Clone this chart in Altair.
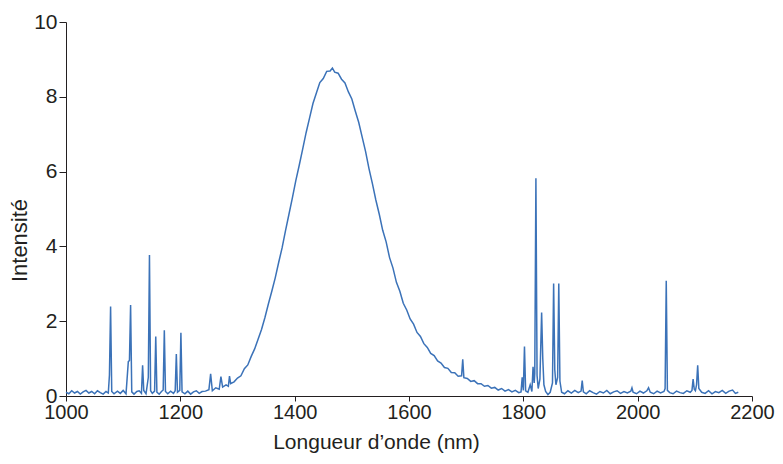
import altair as alt
import pandas as pd

# Segment A: baseline with emission lines (1000-1240 nm)
wl_a = [1000, 1005, 1010, 1015, 1020, 1025, 1030, 1035, 1040, 1045, 1050, 1055, 1060, 1065,
        1070, 1074, 1076, 1078, 1080, 1084, 1090, 1095, 1100, 1105, 1109, 1111, 1113, 1115,
        1119, 1124, 1128, 1132, 1134, 1136, 1140, 1144, 1146, 1148, 1151, 1155, 1157, 1159,
        1163, 1167, 1170, 1172, 1174, 1178, 1183, 1188, 1191, 1193, 1195, 1199, 1201, 1203,
        1208, 1213, 1218, 1223, 1228, 1233, 1238]
int_a = [0.10, 0.06, 0.14, 0.08, 0.12, 0.05, 0.11, 0.15, 0.08, 0.12, 0.06, 0.14, 0.09, 0.05,
         0.12, 0.08, 0.56, 2.39, 0.12, 0.06, 0.13, 0.07, 0.15, 0.06, 0.92, 0.95, 2.43, 0.11,
         0.05, 0.12, 0.14, 0.07, 0.82, 0.15, 0.06, 0.50, 3.77, 0.14, 0.07, 0.13, 1.59, 0.10,
         0.05, 0.12, 0.16, 1.76, 0.12, 0.06, 0.13, 0.07, 0.14, 1.12, 0.10, 0.15, 1.69, 0.11,
         0.06, 0.13, 0.05, 0.11, 0.14, 0.07, 0.12]

# Segment B: broad emission band (1244-1796 nm)
wl_b = [1244, 1250, 1253, 1256, 1262, 1268, 1271, 1274, 1280, 1284, 1286, 1288, 1294, 1300,
        1306, 1312, 1318, 1324, 1330, 1336, 1342, 1348, 1354, 1360, 1366, 1372, 1378, 1384,
        1390, 1396, 1402, 1408, 1414, 1420, 1426, 1432, 1438, 1444, 1450, 1456, 1462, 1466,
        1470, 1476, 1482, 1488, 1494, 1500, 1506, 1512, 1518, 1524, 1530, 1536, 1542, 1548,
        1554, 1560, 1566, 1572, 1578, 1584, 1590, 1596, 1602, 1608, 1614, 1620, 1626, 1632,
        1638, 1644, 1650, 1656, 1662, 1668, 1674, 1680, 1686, 1692, 1694, 1696, 1702, 1708,
        1714, 1720, 1726, 1732, 1738, 1744, 1750, 1756, 1762, 1768, 1774, 1780, 1786, 1792,
        1796]
int_b = [0.13, 0.17, 0.59, 0.14, 0.22, 0.18, 0.52, 0.24, 0.30, 0.26, 0.53, 0.33, 0.38, 0.48,
         0.54, 0.73, 0.83, 1.06, 1.26, 1.52, 1.78, 2.10, 2.46, 2.80, 3.16, 3.57, 3.96, 4.42,
         4.86, 5.30, 5.76, 6.17, 6.60, 7.04, 7.43, 7.82, 8.10, 8.38, 8.49, 8.68, 8.69, 8.77,
         8.66, 8.63, 8.47, 8.37, 8.13, 7.94, 7.62, 7.32, 6.93, 6.54, 6.08, 5.68, 5.24, 4.86,
         4.43, 4.12, 3.70, 3.42, 3.04, 2.80, 2.48, 2.30, 2.06, 1.92, 1.70, 1.59, 1.40, 1.30,
         1.14, 1.08, 0.94, 0.88, 0.76, 0.74, 0.63, 0.62, 0.53, 0.54, 0.98, 0.49, 0.47, 0.39,
         0.41, 0.33, 0.33, 0.26, 0.28, 0.21, 0.23, 0.16, 0.20, 0.13, 0.17, 0.11, 0.15, 0.09,
         0.11]

# Segment C: baseline with emission lines (1798-2176 nm)
wl_c = [1798, 1800, 1802, 1804, 1808, 1812, 1815, 1817, 1819, 1820, 1822, 1824, 1826, 1829,
        1832, 1834, 1836, 1839, 1843, 1847, 1851, 1853, 1855, 1857, 1860, 1862, 1864, 1867,
        1872, 1878, 1884, 1890, 1896, 1901, 1903, 1905, 1910, 1916, 1922, 1928, 1934, 1940,
        1946, 1952, 1958, 1964, 1970, 1976, 1982, 1988, 1990, 1992, 1998, 2004, 2010, 2016,
        2019, 2022, 2028, 2034, 2040, 2046, 2048, 2050, 2052, 2056, 2062, 2068, 2074, 2080,
        2086, 2092, 2095, 2097, 2099, 2101, 2103, 2105, 2107, 2112, 2118, 2124, 2130, 2136,
        2142, 2148, 2154, 2160, 2166, 2171, 2176]
int_c = [0.50, 0.15, 1.32, 0.14, 0.10, 0.30, 0.12, 0.78, 0.35, 0.60, 5.82, 0.55, 0.20, 0.45,
         2.23, 1.00, 0.30, 0.12, 0.04, 0.10, 0.35, 3.01, 0.70, 0.30, 0.50, 3.01, 0.40, 0.10,
         0.06, 0.14, 0.08, 0.15, 0.09, 0.13, 0.41, 0.11, 0.06, 0.14, 0.09, 0.05, 0.12, 0.08,
         0.15, 0.06, 0.11, 0.14, 0.07, 0.12, 0.08, 0.13, 0.22, 0.10, 0.06, 0.13, 0.08, 0.14,
         0.22, 0.10, 0.06, 0.13, 0.08, 0.12, 0.20, 3.08, 0.15, 0.09, 0.06, 0.13, 0.09, 0.07,
         0.14, 0.10, 0.15, 0.45, 0.18, 0.14, 0.30, 0.82, 0.20, 0.10, 0.07, 0.14, 0.06, 0.12,
         0.09, 0.15, 0.07, 0.13, 0.16, 0.07, 0.10]

x_ticks = [1000, 1200, 1400, 1600, 1800, 2000, 2200]
y_ticks = [0, 2, 4, 6, 8, 10]

df = pd.DataFrame({
    "wl": wl_a + wl_b + wl_c,
    "val": int_a + int_b + int_c,
})

FONT = "Liberation Sans"
INK = "#231f20"

chart = alt.Chart(df).mark_line(color="#3b72b8", strokeWidth=1.5).encode(
    x=alt.X("wl:Q",
            scale=alt.Scale(domain=[1000, 2200], nice=False, zero=False),
            axis=alt.Axis(title="Longueur d\u2019onde (nm)", values=x_ticks, format="d",
                          grid=False, tickSize=5, labelPadding=1, titlePadding=9,
                          titleX=310,
                          labelFontSize=20, titleFontSize=21, titleFontWeight="normal",
                          labelFont=FONT, titleFont=FONT,
                          domainColor=INK, tickColor=INK, labelColor=INK, titleColor=INK,
                          labelOverlap=False, labelFlush=False)),
    y=alt.Y("val:Q",
            scale=alt.Scale(domain=[0, 10], nice=False),
            axis=alt.Axis(title="Intensit\u00e9", values=y_ticks, grid=False,
                          tickSize=7, labelPadding=2, titlePadding=2,
                          titleY=218,
                          labelFontSize=21, titleFontSize=22, titleFontWeight="normal",
                          labelFont=FONT, titleFont=FONT,
                          domainColor=INK, tickColor=INK, labelColor=INK, titleColor=INK)),
).properties(
    width=686, height=374,
    autosize=alt.AutoSizeParams(type="none"),
    padding={"left": 58, "right": 23, "top": 14, "bottom": 60},
    background="white",
).configure_view(stroke=None)

chart.save("out.html", embed_options={"renderer": "svg", "actions": False})
